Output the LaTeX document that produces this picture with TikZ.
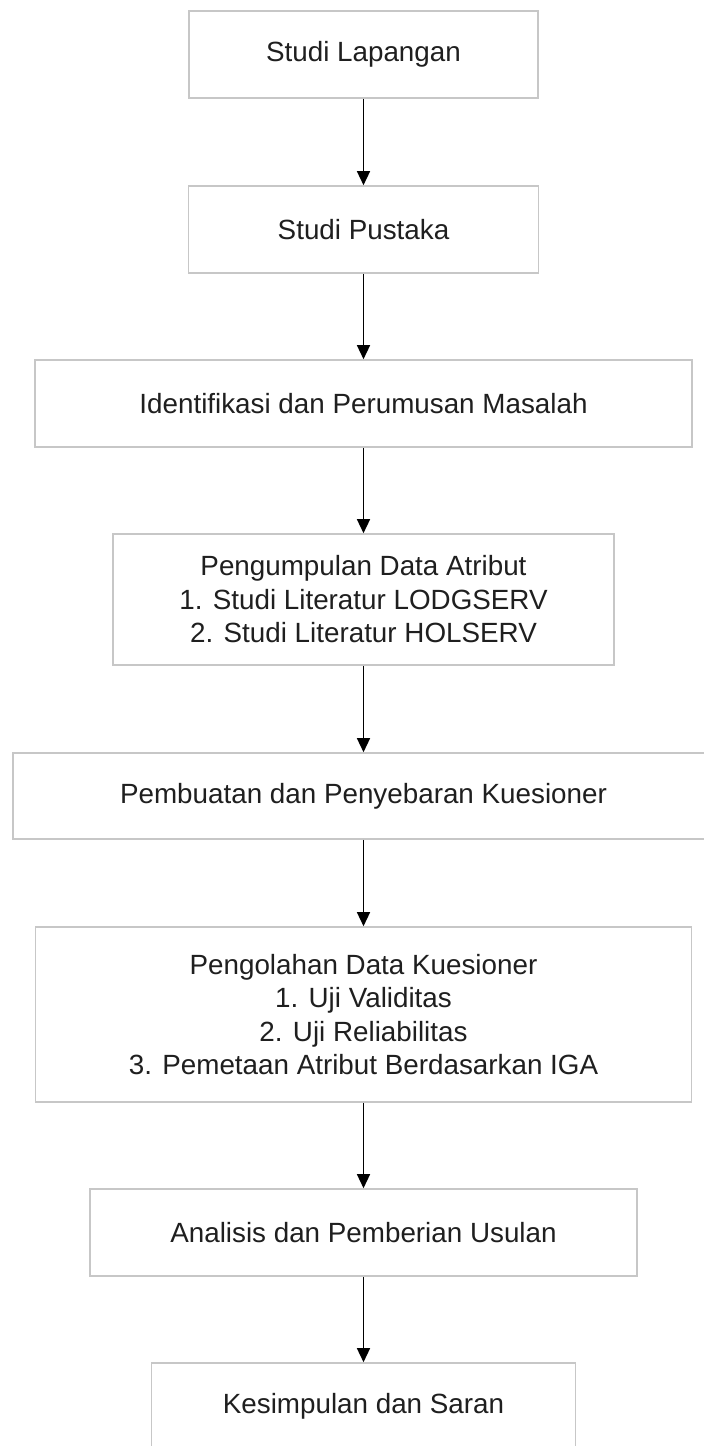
\documentclass[tikz,border=0pt]{standalone}
\usepackage{fontspec}
\setmainfont{Liberation Sans}
\usetikzlibrary{arrows.meta}
\begin{document}
\begin{tikzpicture}[x=1pt,y=-1pt,
  procbox/.style={draw=black!22, line width=1.6pt, fill=white, inner sep=0pt,
    align=center, text=black!88, font=\fontsize{27.8}{33.5}\selectfont},
  flow/.style={line width=1.4pt, black, -{Triangle[width=13pt,length=14pt]}}]
\clip (0,0) rectangle (704,1446);
\fill[white] (0,0) rectangle (704,1446);
\node[procbox, minimum width=349pt, minimum height=87pt] (b1) at (363.5,54.5) {Studi Lapangan};
\node[procbox, minimum width=350pt, minimum height=87pt] (b2) at (363.5,229.5) {Studi Pustaka};
\node[procbox, minimum width=657pt, minimum height=87pt] (b3) at (363.5,403.5) {Identifikasi dan Perumusan Masalah};
\node[procbox, minimum width=501pt, minimum height=131pt] (b4) at (363.5,599.5) {Pengumpulan Data Atribut\\1. Studi Literatur LODGSERV\\2. Studi Literatur HOLSERV};
\node[procbox, minimum width=701pt, minimum height=86pt] (b5) at (363.5,796) {Pembuatan dan Penyebaran Kuesioner};
\node[procbox, minimum width=656pt, minimum height=175pt] (b6) at (363.5,1014.5) {Pengolahan Data Kuesioner\\1. Uji Validitas\\2. Uji Reliabilitas\\3. Pemetaan Atribut Berdasarkan IGA};
\node[procbox, minimum width=547pt, minimum height=87pt] (b7) at (363.5,1232.5) {Analisis dan Pemberian Usulan};
\node[procbox, minimum width=424pt, minimum height=87pt] (b8) at (363.5,1406.5) {Kesimpulan dan Saran};
\draw[flow] (b1) -- (b2);
\draw[flow] (b2) -- (b3);
\draw[flow] (b3) -- (b4);
\draw[flow] (b4) -- (b5);
\draw[flow] (b5) -- (b6);
\draw[flow] (b6) -- (b7);
\draw[flow] (b7) -- (b8);
\end{tikzpicture}
\end{document}
